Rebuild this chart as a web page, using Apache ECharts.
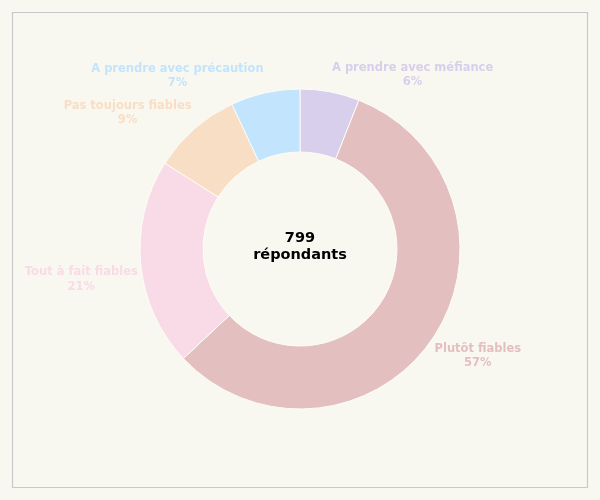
<!DOCTYPE html>
<html><head><meta charset="utf-8">
<script src="https://cdn.jsdelivr.net/npm/echarts@6/dist/echarts.min.js"></script>
<style>html,body{margin:0;padding:0;background:#f9f8f0;}#c{width:600px;height:500px;}</style>
</head><body><div id="c"></div>
<script>
const categories = ['A prendre avec méfiance','Plutôt fiables','Tout à fait fiables','Pas toujours fiables','A prendre avec précaution'];
const values = [6,57,21,9,7];
const colors = ['#d8cfec','#e4bfbf','#f9dbe7','#f9dec6','#c2e4fc'];
const centerText = '{a|799}\n{a|répondants}';
// label nudges (style only)
const labelShift = [[-6,-1],[-16,8],[18,14],[13,-4],[7,-1]];

const chart = echarts.init(document.getElementById('c'));
const FONT = 'DejaVu Sans';
const FS = 11.5;
chart.setOption({
  backgroundColor: '#f9f8f0',
  animation: false,
  graphic: [
    {type:'rect', shape:{x:12.5,y:12.5,width:575,height:475}, style:{fill:'none', stroke:'#c8c8c8', lineWidth:1.2}},
    {type:'text', left:'center', top:231, style:{text:centerText, rich:{a:{align:'center', fontFamily:FONT, fontWeight:'bold', fontSize:14.5, lineHeight:17, fill:'#000'}}}}
  ],
  series: [{
    type:'pie',
    center:[300,249],
    radius:[97,160],
    startAngle:90,
    clockwise:true,
    avoidLabelOverlap:false,
    itemStyle:{borderColor:'#fdfcf8', borderWidth:1},
    label:{
      show:true, position:'outside',
      formatter:'{n|{b}}\n{p|{d}%}',
      fontFamily:FONT, fontWeight:'bold', fontSize:FS,
      rich:{
        n:{align:'center', fontFamily:FONT, fontWeight:'bold', fontSize:FS, lineHeight:14.5},
        p:{align:'center', fontFamily:FONT, fontWeight:'bold', fontSize:FS, lineHeight:14.5}
      }
    },
    labelLine:{show:false, length:16, length2:0},
    labelLayout: function(p){ const s = labelShift[p.dataIndex]; return {dx:s[0], dy:s[1]}; },
    emphasis:{disabled:true},
    data: categories.map((n,i)=>({name:n, value:values[i], itemStyle:{color:colors[i]}, label:{color:colors[i]}}))
  }]
});
</script></body></html>
